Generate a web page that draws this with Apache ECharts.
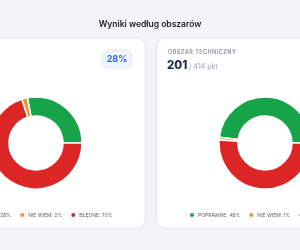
<!DOCTYPE html>
<html><head><meta charset="utf-8">
<script src="https://cdn.jsdelivr.net/npm/echarts@6/dist/echarts.min.js"></script>
<style>html,body{margin:0;padding:0;background:#f3f4f6;}#c{width:300px;height:250px;}</style>
</head><body><div id="c"></div>
<script>
const categories = ['POPRAWNE', 'NIE WIEM', 'BŁĘDNE'];
const colors = ['#16a34a', '#f0952b', '#dc2626'];
const leftValues = [28, 2, 70];
const rightValues = [48, 1, 51];
const rightTitle = 'OBSZAR TECHNICZNY';
const rightScore = '201';
const rightMax = '/ 414 pkt';
const leftBadge = '28%';
const title = 'Wyniki według obszarów';

const font = 'Inter, "Noto Sans", sans-serif';
function mkData(vals, suffix) {
  return categories.map((c, i) => ({ name: c + ': ' + vals[i] + '%' + suffix, value: vals[i], itemStyle: { color: colors[i] } }));
}
const leftData = mkData(leftValues, '');
const rightData = mkData(rightValues, ' ');

function pie(center, data) {
  return {
    type: 'pie', center: center, radius: [27, 46], startAngle: 0, clockwise: false,
    label: { show: false }, labelLine: { show: false }, silent: true,
    itemStyle: { borderColor: '#fff', borderWidth: 1.5 },
    emphasis: { disabled: true }, animation: false,
    data: data
  };
}
function legend(left, data) {
  return {
    left: left, top: 211, width: 400, orient: 'horizontal', padding: 0,
    icon: 'circle', itemWidth: 6, itemHeight: 6, itemGap: 7,
    selectedMode: false,
    data: data.map(d => d.name),
    formatter: n => n.trim(),
    textStyle: { fontSize: 5, color: '#5f6368', fontFamily: font, padding: [0, 0, 0, -2] }
  };
}
const chart = echarts.init(document.getElementById('c'), null, { renderer: 'canvas' });
chart.setOption({
  backgroundColor: '#f3f4f6',
  animation: false,
  graphic: [
    { type: 'rect', shape: { x: -73, y: 38, width: 218, height: 190, r: 9 }, style: { fill: '#fff', stroke: '#eceef1', lineWidth: 1, shadowBlur: 3, shadowColor: 'rgba(0,0,0,0.05)' }, z: 0 },
    { type: 'rect', shape: { x: 157, y: 38, width: 218, height: 190, r: 9 }, style: { fill: '#fff', stroke: '#eceef1', lineWidth: 1, shadowBlur: 3, shadowColor: 'rgba(0,0,0,0.05)' }, z: 0 },
    { type: 'text', x: 150, y: 24, style: { text: title, fill: '#222', font: '600 8.5px ' + font, textAlign: 'center', textVerticalAlign: 'middle' }, z: 2 },
    { type: 'rect', shape: { x: 102, y: 50, width: 30, height: 18, r: 6 }, style: { fill: '#f1f4f8', stroke: '#e6eaf0', lineWidth: 1 }, z: 2 },
    { type: 'text', x: 117, y: 59.5, style: { text: leftBadge, fill: '#2563eb', font: '700 9px ' + font, textAlign: 'center', textVerticalAlign: 'middle' }, z: 3 },
    { type: 'text', x: 168, y: 52, style: { text: rightTitle.split('').join('\u200a'), fill: '#8a8f98', font: '600 5.5px ' + font, textVerticalAlign: 'middle' }, z: 2 },
    { type: 'text', x: 167, y: 66, style: { text: rightScore, fill: '#1e2a4a', font: '800 11.5px ' + font, textVerticalAlign: 'middle' }, z: 2 },
    { type: 'text', x: 189, y: 67, style: { text: rightMax, fill: '#9ca3af', font: '400 7px ' + font, textVerticalAlign: 'middle' }, z: 2 }
  ],
  legend: [legend(-41, leftData), legend(188, rightData)],
  series: [pie([36, 143], leftData), pie([265, 143], rightData)]
});
</script></body></html>
